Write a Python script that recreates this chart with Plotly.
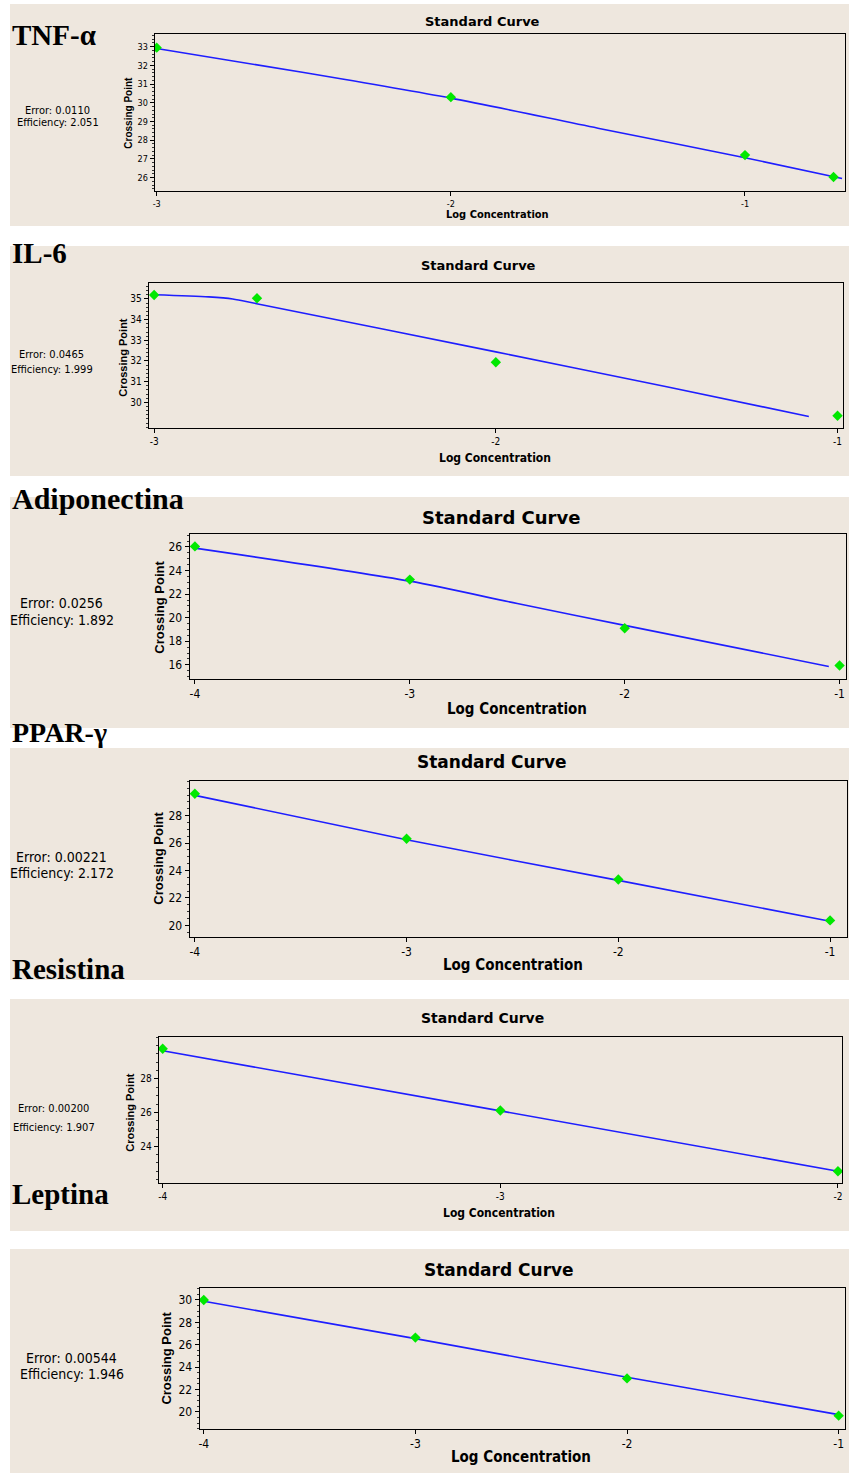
import plotly.graph_objects as go

W, H = 849, 1473

# ---------------- data ----------------
panel_names = ["TNF-α", "IL-6", "Adiponectina", "PPAR-γ", "Resistina", "Leptina"]
error_texts = ["Error: 0.0110", "Error: 0.0465", "Error: 0.0256",
               "Error: 0.00221", "Error: 0.00200", "Error: 0.00544"]
efficiency_texts = ["Efficiency: 2.051", "Efficiency: 1.999", "Efficiency: 1.892",
                    "Efficiency: 2.172", "Efficiency: 1.907", "Efficiency: 1.946"]
chart_title = "Standard Curve"
x_title = "Log Concentration"
y_title = "Crossing Point"

tnf_x = [-3, -2, -1, -0.699]
tnf_y = [32.95, 30.3, 27.2, 26.03]
tnf_fit_x = [-3, -2.5, -2, -1.5, -1, -0.67]
tnf_fit_y = [32.9, 31.62, 30.25, 28.64, 27.06, 25.95]

il6_x = [-3, -2.699, -2, -1]
il6_y = [35.19, 35.03, 31.94, 29.35]
il6_fit_x = [-3, -2.84, -2.77, -2.70, -2.0, -1.5, -1.084]
il6_fit_y = [35.2, 35.1, 35.0, 34.77, 32.44, 30.75, 29.32]

adipo_x = [-4, -3, -2, -1]
adipo_y = [26.05, 23.23, 19.1, 15.94]
adipo_fit_x = [-4, -3, -2.5, -2, -1.05]
adipo_fit_y = [25.9, 23.1, 21.2, 19.35, 15.86]

ppar_x = [-4, -3, -2, -1]
ppar_y = [29.6, 26.32, 23.35, 20.36]
ppar_fit_x = [-4, -3, -2, -1]
ppar_fit_y = [29.48, 26.25, 23.28, 20.3]

resis_x = [-4, -3, -2]
resis_y = [29.8, 26.12, 22.5]
resis_fit_x = [-4, -3, -2]
resis_fit_y = [29.68, 26.1, 22.5]

lep_x = [-4, -3, -2, -1]
lep_y = [30.0, 26.64, 23.0, 19.67]
lep_fit_x = [-4, -3, -2, -1]
lep_fit_y = [29.88, 26.55, 23.1, 19.76]

x_ticks = [[-3, -2, -1], [-3, -2, -1], [-4, -3, -2, -1],
           [-4, -3, -2, -1], [-4, -3, -2], [-4, -3, -2, -1]]
y_ticks = [[26, 27, 28, 29, 30, 31, 32, 33], [30, 31, 32, 33, 34, 35],
           [16, 18, 20, 22, 24, 26], [20, 22, 24, 26, 28],
           [24, 26, 28], [20, 22, 24, 26, 28, 30]]

series = [(tnf_x, tnf_y, tnf_fit_x, tnf_fit_y),
          (il6_x, il6_y, il6_fit_x, il6_fit_y),
          (adipo_x, adipo_y, adipo_fit_x, adipo_fit_y),
          (ppar_x, ppar_y, ppar_fit_x, ppar_fit_y),
          (resis_x, resis_y, resis_fit_x, resis_fit_y),
          (lep_x, lep_y, lep_fit_x, lep_fit_y)]

# ---------------- layout geometry (pixels) ----------------
panels = [
    dict(box=(153, 845, 34, 191), xr=[-3.007, -0.66], yr=[25.28, 33.68], minor=0.2,
         bg=(4, 226), title=(482, 21, 13), label=(8, 35, 29), err=(56, 110, 122, 11),
         ylab=(127, 113, 10), xlab=(497, 214, 11), tick=9),
    dict(box=(147, 843, 283, 428), xr=[-3.016, -0.984], yr=[28.76, 35.77], minor=0.2,
         bg=(246, 476), title=(478, 265, 13), label=(8, 253, 29), err=(50, 354, 370, 11),
         ylab=(121, 357, 11), xlab=(494, 458, 12), tick=10),
    dict(box=(188, 846, 534, 679), xr=[-4.025, -0.97], yr=[14.8, 27.1], minor=0.5,
         bg=(497, 728), title=(500, 517, 18), label=(8, 499, 30), err=(60, 603, 620, 14),
         ylab=(158, 607, 13), xlab=(516, 709, 15), tick=12),
    dict(box=(188, 847, 781, 937), xr=[-4.025, -0.92], yr=[19.15, 30.53], minor=0.5,
         bg=(748, 980), title=(491, 762, 17), label=(8, 733, 28), err=(60, 857, 873, 14),
         ylab=(156, 858, 13), xlab=(512, 965, 15), tick=12),
    dict(box=(157, 842, 1037, 1183), xr=[-4.012, -1.988], yr=[21.8, 30.5], minor=0.5,
         bg=(999, 1231), title=(482, 1018, 14), label=(8, 969, 29), err=(52, 1108, 1127, 11),
         ylab=(128, 1112, 11), xlab=(498, 1213, 12), tick=10),
    dict(box=(198, 845, 1288, 1429), xr=[-4.02, -0.97], yr=[18.48, 31.07], minor=0.5,
         bg=(1249, 1473), title=(498, 1270, 17), label=(8, 1194, 29), err=(70, 1358, 1374, 14),
         ylab=(164, 1358, 13), xlab=(520, 1457, 15), tick=12),
]

BEIGE = "#EEE7DE"
NARROW = "Liberation Sans Narrow, DejaVu Sans Condensed, Liberation Sans, sans-serif"
BOLDSANS = "DejaVu Sans, Liberation Sans, sans-serif"
SERIF = "Liberation Serif, Times New Roman, serif"


def px(x):
    return x / W


def py(y):
    return 1 - y / H


fig = go.Figure()
shapes = []
annotations = []
layout_axes = {}

for i, (p, (sx, sy, fx, fy)) in enumerate(zip(panels, series)):
    n = i + 1
    xa = "x" if n == 1 else f"x{n}"
    ya = "y" if n == 1 else f"y{n}"
    xkey = "xaxis" if n == 1 else f"xaxis{n}"
    ykey = "yaxis" if n == 1 else f"yaxis{n}"
    l, r, t, b = p["box"]

    shapes.append(dict(type="rect", xref="paper", yref="paper",
                       x0=px(8), x1=1, y0=py(p["bg"][1]), y1=py(p["bg"][0]),
                       fillcolor=BEIGE, line=dict(width=0), layer="below"))

    fig.add_trace(go.Scatter(x=fx, y=fy, mode="lines", xaxis=xa, yaxis=ya,
                             line=dict(color="#1E1EFF", width=1.6,
                                       shape="spline", smoothing=0.8),
                             showlegend=False, hoverinfo="skip"))
    fig.add_trace(go.Scatter(x=sx, y=sy, mode="markers", xaxis=xa, yaxis=ya,
                             marker=dict(symbol="diamond", size=8, color="#00E800",
                                         line=dict(width=0)),
                             showlegend=False))

    layout_axes[xkey] = dict(domain=[px(l), px(r)], range=p["xr"], anchor=ya,
                             tickmode="array", tickvals=x_ticks[i],
                             ticktext=[str(v) for v in x_ticks[i]],
                             ticks="outside", ticklen=4, tickcolor="#000",
                             showline=True, linecolor="#000", linewidth=1, mirror=True,
                             showgrid=False, zeroline=False, ticklabelstandoff=0,
                             tickfont=dict(family=NARROW, size=p["tick"], color="#000"))
    layout_axes[ykey] = dict(domain=[py(b), py(t)], range=p["yr"], anchor=xa,
                             tickmode="array", tickvals=y_ticks[i],
                             ticks="outside", ticklen=4, tickcolor="#000",
                             minor=dict(tickmode="linear", tick0=0, dtick=p["minor"],
                                        ticks="outside", ticklen=2, tickcolor="#333",
                                        showgrid=False),
                             showline=True, linecolor="#000", linewidth=1, mirror=True,
                             showgrid=False, zeroline=False, ticklabelstandoff=0,
                             tickfont=dict(family=NARROW, size=p["tick"], color="#000"))

    tx, tyy, ts = p["title"]
    annotations.append(dict(text=f"<b>{chart_title}</b>", x=px(tx), y=py(tyy),
                            xref="paper", yref="paper", showarrow=False,
                            xanchor="center", yanchor="middle",
                            font=dict(family=BOLDSANS, size=ts, color="#000")))
    lx, ly, ls = p["label"]
    annotations.append(dict(text=f"<b>{panel_names[i]}</b>", x=px(lx), y=py(ly),
                            xref="paper", yref="paper", showarrow=False,
                            xanchor="left", yanchor="middle",
                            font=dict(family=SERIF, size=ls, color="#000")))
    ex, ey1, ey2, es = p["err"]
    annotations.append(dict(text=error_texts[i], x=px(ex), y=py(ey1),
                            xref="paper", yref="paper", showarrow=False,
                            xanchor="center", yanchor="middle",
                            font=dict(family=NARROW, size=es, color="#000")))
    annotations.append(dict(text=efficiency_texts[i], x=px(ex), y=py(ey2),
                            xref="paper", yref="paper", showarrow=False,
                            xanchor="center", yanchor="middle",
                            font=dict(family=NARROW, size=es, color="#000")))
    yx, yy, ys = p["ylab"]
    annotations.append(dict(text=f"<b>{y_title}</b>", x=px(yx), y=py(yy),
                            xref="paper", yref="paper", showarrow=False,
                            xanchor="center", yanchor="middle", textangle=-90,
                            font=dict(family="Liberation Sans, Arial, sans-serif",
                                      size=ys, color="#000")))
    xx, xy, xs = p["xlab"]
    annotations.append(dict(text=f"<b>{x_title}</b>", x=px(xx), y=py(xy),
                            xref="paper", yref="paper", showarrow=False,
                            xanchor="center", yanchor="middle",
                            font=dict(family=NARROW, size=xs, color="#000")))

fig.update_layout(width=W, height=H, margin=dict(l=0, r=0, t=0, b=0),
                  paper_bgcolor="white", plot_bgcolor="#FDFDFF",
                  shapes=shapes, annotations=annotations, showlegend=False,
                  **layout_axes)

fig.write_html("out.html", config={"displayModeBar": False},
               post_script="document.body.style.margin='0';document.body.style.overflow='hidden';")
